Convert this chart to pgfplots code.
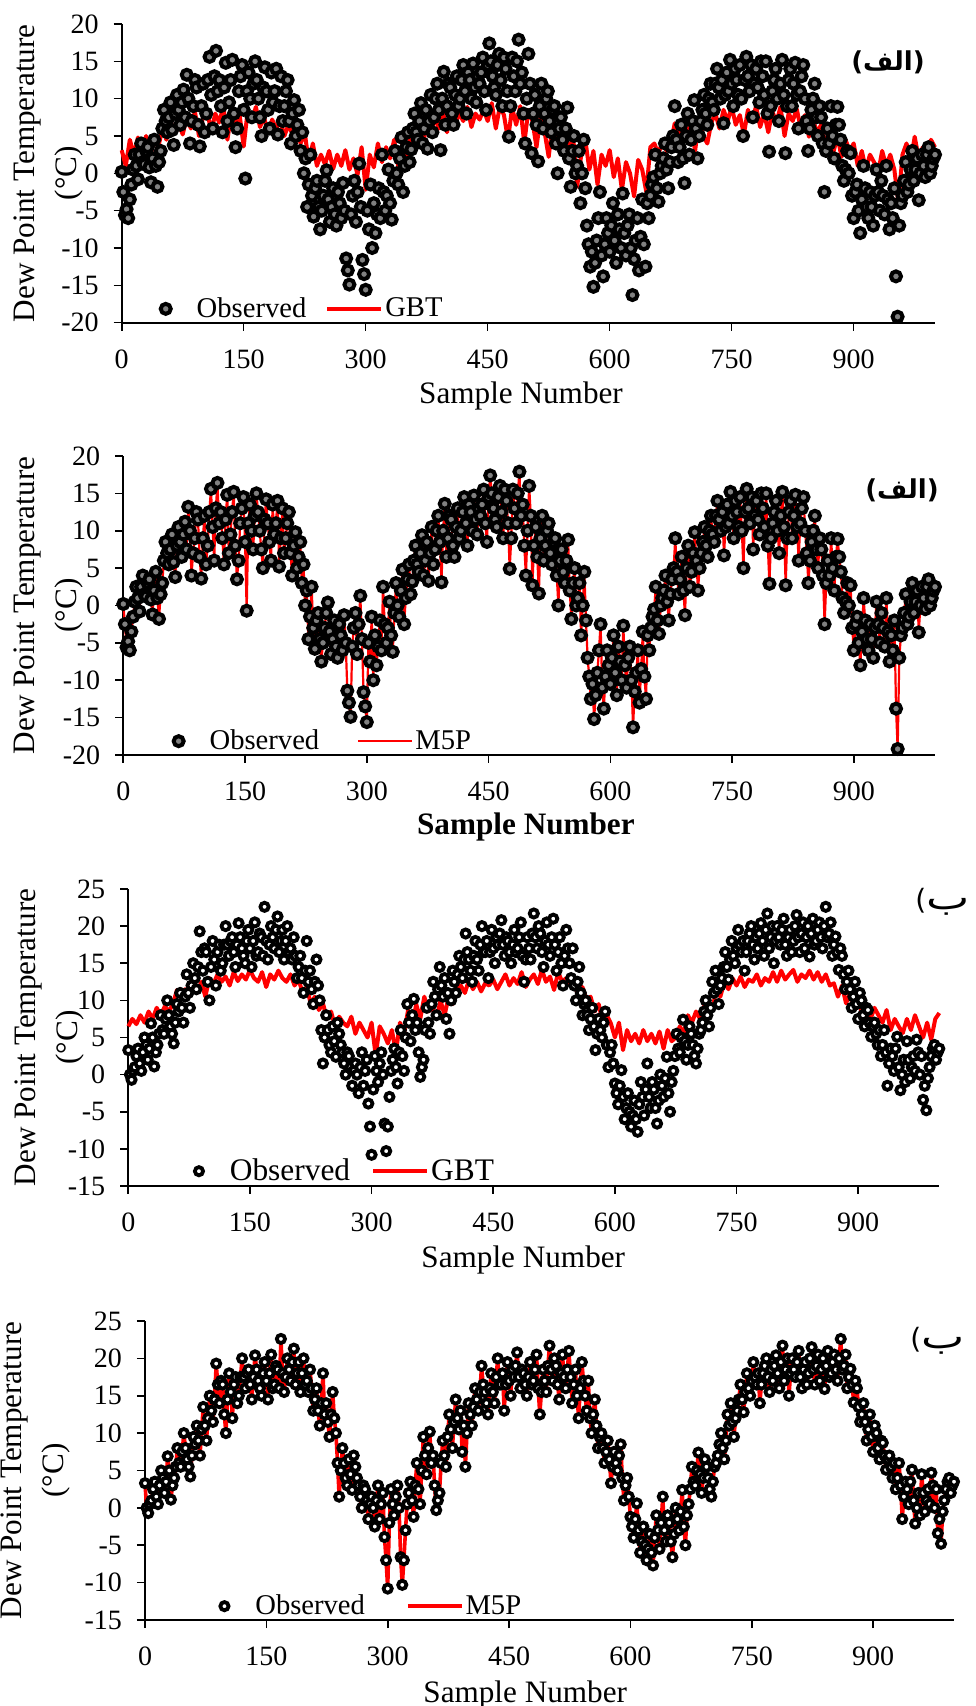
\documentclass[border=0pt]{standalone}
\usepackage{fontspec}
\setmainfont{Liberation Serif}
\newfontfamily\arabicfont[Script=Arabic]{DejaVu Sans}
\newfontfamily\arabicwide[Script=Arabic, FakeStretch=1.35]{DejaVu Sans}
\newfontfamily\dejavu{DejaVu Sans}
\usepackage{pgfplots}
\usepackage{pgfplotstable}
\pgfplotsset{compat=1.18}
\TeXXeTstate=1

% station 1: observed dew point, every 2nd sample
\pgfplotstableread[row sep=\\]{
y\\
0.2\\ -2.5\\ -5.6\\ -4.8\\ -6.0\\ -3.5\\ -1.5\\ 0.5\\ 2.5\\ 1.0\\ -0.8\\ 2.5\\ 4.0\\ 1.5\\ 1.2\\ 3.0\\ 3.5\\ 0.8\\ -1.2\\ 2.0\\
4.5\\ 1.0\\ -1.8\\ 1.5\\ 3.0\\ 6.0\\ 8.5\\ 7.0\\ 5.5\\ 7.5\\ 9.5\\ 5.8\\ 3.8\\ 8.0\\ 10.5\\ 8.5\\ 6.5\\ 9.5\\ 11.2\\ 7.5\\
13.2\\ 10.0\\ 4.0\\ 7.0\\ 9.0\\ 12.5\\ 11.5\\ 6.5\\ 3.6\\ 9.0\\ 12.0\\ 5.5\\ 8.0\\ 12.5\\ 15.6\\ 10.5\\ 6.0\\ 13.0\\ 16.4\\ 11.0\\
12.5\\ 9.0\\ 5.5\\ 11.5\\ 14.8\\ 7.0\\ 9.5\\ 12.5\\ 15.2\\ 8.0\\ 3.5\\ 6.0\\ 11.0\\ 13.0\\ 14.5\\ 8.5\\ -0.7\\ 11.0\\ 13.5\\ 10.0\\
7.5\\ 12.0\\ 15.0\\ 12.5\\ 10.0\\ 7.5\\ 5.0\\ 11.5\\ 14.2\\ 11.0\\ 8.5\\ 6.0\\ 13.5\\ 9.5\\ 11.0\\ 14.0\\ 5.2\\ 9.0\\ 13.0\\ 7.0\\
9.0\\ 11.0\\ 12.5\\ 7.0\\ 4.0\\ 8.0\\ 9.8\\ 5.0\\ 6.5\\ 8.5\\ 3.0\\ 5.5\\ 0.0\\ 2.0\\ -4.5\\ -1.5\\ 2.5\\ -3.0\\ -5.8\\ -2.0\\
-1.0\\ -4.5\\ -7.5\\ -5.0\\ -3.0\\ -1.0\\ 0.4\\ -3.5\\ -6.5\\ -4.5\\ -2.0\\ -5.5\\ -7.0\\ -2.5\\ -4.0\\ -6.0\\ -1.3\\ -5.0\\ -11.4\\ -13.0\\
-14.9\\ -5.5\\ -3.0\\ -1.0\\ -6.5\\ -2.5\\ 1.3\\ -4.5\\ -11.6\\ -13.5\\ -15.6\\ -5.0\\ -7.5\\ -1.5\\ -10.0\\ -4.0\\ -8.0\\ -5.5\\ -2.0\\ -6.0\\
2.5\\ -2.5\\ -5.0\\ -3.0\\ 0.5\\ -4.0\\ -6.2\\ -1.0\\ 3.0\\ 0.0\\ -1.5\\ 2.0\\ 4.8\\ -2.5\\ 1.0\\ 3.5\\ 5.5\\ 1.5\\ 3.2\\ 6.0\\
8.0\\ 5.5\\ 4.5\\ 7.0\\ 9.4\\ 4.0\\ 6.0\\ 8.5\\ 3.3\\ 7.0\\ 10.5\\ 5.5\\ 7.5\\ 10.0\\ 12.0\\ 8.5\\ 3.1\\ 10.0\\ 13.6\\ 6.5\\
9.0\\ 12.0\\ 11.5\\ 8.0\\ 6.5\\ 10.5\\ 13.0\\ 9.0\\ 10.0\\ 12.5\\ 14.5\\ 11.0\\ 8.0\\ 13.5\\ 12.5\\ 10.0\\ 14.7\\ 11.5\\ 9.5\\ 13.0\\
12.0\\ 13.5\\ 15.5\\ 11.0\\ 8.5\\ 14.5\\ 17.4\\ 15.0\\ 13.0\\ 11.5\\ 10.5\\ 14.5\\ 16.0\\ 12.5\\ 9.0\\ 15.5\\ 14.0\\ 11.0\\ 4.9\\ 9.0\\
15.5\\ 13.0\\ 11.0\\ 15.0\\ 17.9\\ 12.0\\ 13.5\\ 8.0\\ 4.0\\ 10.0\\ 16.0\\ 12.0\\ 2.7\\ 8.0\\ 10.5\\ 6.5\\ 1.6\\ 9.0\\ 12.0\\ 6.0\\
8.0\\ 10.0\\ 11.0\\ 7.0\\ 5.5\\ 8.5\\ 9.0\\ 4.0\\ 0.0\\ 6.0\\ 7.5\\ 4.5\\ 3.0\\ 6.0\\ 8.8\\ 2.0\\ -1.8\\ 3.0\\ 5.0\\ 0.0\\
1.0\\ 3.0\\ -4.0\\ 0.0\\ 4.5\\ -2.0\\ -7.0\\ -9.5\\ -12.5\\ -10.5\\ -15.2\\ -12.0\\ -9.0\\ -6.0\\ -2.5\\ -11.0\\ -13.8\\ -9.5\\ -6.0\\ -8.0\\
-10.5\\ -7.0\\ -4.0\\ -9.0\\ -12.0\\ -5.5\\ -7.5\\ -10.0\\ -2.7\\ -8.0\\ -11.0\\ -7.0\\ -5.5\\ -10.0\\ -16.3\\ -11.5\\ -9.0\\ -6.0\\ -13.0\\ -8.5\\
-3.5\\ -9.5\\ -12.5\\ -4.0\\ -6.0\\ -3.0\\ -1.5\\ -0.5\\ 2.5\\ -2.0\\ -3.8\\ 0.0\\ 1.0\\ 2.0\\ 4.0\\ 0.5\\ -2.0\\ 1.5\\ 3.5\\ 5.0\\
9.0\\ 4.5\\ 1.5\\ 3.5\\ 6.5\\ 2.0\\ -1.3\\ 5.0\\ 8.0\\ 2.5\\ 4.5\\ 7.0\\ 9.8\\ 6.0\\ 2.0\\ 5.0\\ 7.0\\ 8.5\\ 10.5\\ 8.0\\
6.5\\ 10.0\\ 12.0\\ 9.5\\ 8.5\\ 12.0\\ 14.0\\ 11.5\\ 10.0\\ 12.5\\ 6.7\\ 10.5\\ 13.5\\ 11.0\\ 15.2\\ 12.0\\ 9.0\\ 14.0\\ 12.5\\ 10.5\\
14.5\\ 10.0\\ 5.0\\ 12.5\\ 15.6\\ 13.0\\ 11.0\\ 14.5\\ 7.5\\ 12.0\\ 14.0\\ 11.5\\ 9.5\\ 15.0\\ 13.0\\ 10.5\\ 15.0\\ 8.0\\ 2.9\\ 9.0\\
11.0\\ 12.5\\ 14.0\\ 10.0\\ 7.0\\ 12.0\\ 15.2\\ 10.5\\ 2.7\\ 9.0\\ 12.5\\ 14.0\\ 9.0\\ 12.0\\ 14.8\\ 10.5\\ 6.0\\ 11.0\\ 13.0\\ 14.5\\
10.0\\ 7.0\\ 3.0\\ 6.0\\ 8.5\\ 10.0\\ 12.0\\ 7.5\\ 5.0\\ 9.0\\ 7.5\\ 4.0\\ -2.5\\ 3.0\\ 6.0\\ 4.0\\ 9.0\\ 5.0\\ 2.0\\ 6.5\\
8.9\\ 6.5\\ 4.5\\ 1.0\\ -1.0\\ 0.5\\ 3.0\\ 0.0\\ 2.7\\ -3.0\\ -6.0\\ -2.5\\ -1.5\\ -5.0\\ -8.0\\ -3.5\\ 1.0\\ -2.0\\ -4.5\\ -6.0\\
-2.5\\ -4.5\\ -7.0\\ -3.0\\ 0.5\\ -2.5\\ -5.0\\ -1.0\\ -3.0\\ -5.5\\ 1.0\\ -3.5\\ -7.5\\ -4.0\\ -6.0\\ -2.0\\ -13.8\\ -19.2\\ -7.0\\ -4.0\\
-3.0\\ -1.0\\ 1.5\\ -2.5\\ -1.5\\ 0.5\\ 3.0\\ -1.0\\ 0.5\\ 2.0\\ -3.6\\ 0.0\\ 2.5\\ 1.0\\ -0.5\\ 2.5\\ 3.5\\ 0.0\\ 1.0\\ 2.0\\
2.5\\
}\obsA

% station 1: GBT, every 5th sample
\pgfplotstableread[row sep=\\]{
y\\
3.1\\ 1.0\\ 4.5\\ 2.5\\ 4.8\\ 3.0\\ 5.0\\ 2.2\\ 4.6\\ 3.5\\
6.0\\ 4.5\\ 7.0\\ 5.4\\ 6.8\\ 5.2\\ 7.5\\ 6.0\\ 8.3\\ 5.0\\
7.5\\ 8.5\\ 5.5\\ 8.0\\ 6.8\\ 9.0\\ 4.5\\ 8.2\\ 6.5\\ 7.8\\
3.6\\ 8.5\\ 7.0\\ 8.9\\ 6.2\\ 7.5\\ 5.5\\ 7.2\\ 6.0\\ 7.0\\
5.0\\ 6.5\\ 5.2\\ 6.0\\ 4.0\\ 5.5\\ 1.5\\ 4.0\\ 1.0\\ 2.5\\
1.2\\ 3.0\\ 0.6\\ 2.5\\ 1.0\\ 3.1\\ 0.5\\ 2.0\\ -0.2\\ 3.5\\
-2.2\\ 2.5\\ 0.8\\ 4.0\\ 1.5\\ 3.5\\ 2.0\\ 4.5\\ 1.0\\ 3.8\\
2.0\\ 4.9\\ 3.5\\ 6.0\\ 3.2\\ 7.0\\ 5.0\\ 7.6\\ 6.0\\ 8.2\\
5.5\\ 8.5\\ 6.5\\ 8.0\\ 7.0\\ 8.9\\ 6.2\\ 8.0\\ 7.2\\ 8.5\\
7.0\\ 9.4\\ 6.0\\ 9.0\\ 7.8\\ 4.5\\ 8.8\\ 6.5\\ 9.0\\ 4.0\\
8.5\\ 7.0\\ 3.5\\ 7.6\\ 5.5\\ 2.2\\ 6.8\\ 5.0\\ 7.0\\ 5.5\\
3.0\\ 5.0\\ -1.8\\ 2.5\\ 4.5\\ 0.5\\ 3.0\\ -1.5\\ 2.5\\ 1.0\\
3.1\\ -0.5\\ 2.0\\ -2.2\\ 1.5\\ 0.0\\ -3.1\\ 1.8\\ 0.5\\ -2.5\\
3.5\\ 4.0\\ 2.5\\ 4.5\\ 3.0\\ 4.0\\ 6.7\\ 4.5\\ 7.0\\ 5.5\\
6.5\\ 3.0\\ 7.1\\ 5.0\\ 4.0\\ 6.8\\ 8.0\\ 6.0\\ 8.5\\ 7.0\\
8.9\\ 6.5\\ 7.8\\ 5.2\\ 8.5\\ 7.0\\ 9.0\\ 6.2\\ 8.0\\ 5.5\\
8.3\\ 6.8\\ 8.9\\ 5.0\\ 8.0\\ 7.0\\ 8.6\\ 6.0\\ 7.8\\ 4.9\\
7.1\\ 5.5\\ 6.5\\ 3.5\\ 6.0\\ 2.8\\ 5.0\\ 2.2\\ 4.5\\ 3.0\\
4.0\\ 1.0\\ 3.0\\ 0.5\\ 2.5\\ 1.5\\ 0.0\\ 3.0\\ 1.0\\ 2.5\\
0.5\\ -4.0\\ 2.5\\ 4.0\\ 1.5\\ 4.9\\ 2.0\\ 3.5\\ 1.3\\ 4.5\\
3.5\\
}\gbtA

% station 2: observed dew point, every 2nd sample
\pgfplotstableread[row sep=\\]{
y\\
3.3\\ 0.0\\ -0.7\\ 0.5\\ 1.0\\ 2.5\\ 3.5\\ 1.5\\ 0.5\\ 3.0\\ 5.0\\ 4.0\\ 2.0\\ 3.5\\ 6.9\\ 5.0\\ 1.1\\ 3.0\\ 4.0\\ 5.5\\
8.0\\ 6.0\\ 5.5\\ 7.5\\ 10.0\\ 8.0\\ 6.5\\ 5.5\\ 4.2\\ 7.0\\ 9.5\\ 8.5\\ 11.0\\ 9.0\\ 7.0\\ 10.5\\ 13.5\\ 11.0\\ 9.0\\ 12.0\\
15.0\\ 13.0\\ 11.5\\ 14.5\\ 19.3\\ 16.5\\ 14.0\\ 17.0\\ 16.5\\ 12.5\\ 10.0\\ 14.5\\ 18.0\\ 15.5\\ 12.0\\ 16.5\\ 17.5\\ 14.0\\ 15.0\\ 17.5\\
20.0\\ 17.5\\ 16.0\\ 18.0\\ 18.5\\ 16.5\\ 14.5\\ 17.5\\ 20.4\\ 18.5\\ 17.0\\ 16.0\\ 15.0\\ 18.0\\ 19.5\\ 17.0\\ 14.5\\ 18.0\\ 20.5\\ 16.0\\
16.5\\ 19.0\\ 18.5\\ 16.0\\ 22.6\\ 18.0\\ 15.5\\ 17.5\\ 20.0\\ 18.5\\ 17.0\\ 19.5\\ 21.3\\ 16.5\\ 18.0\\ 19.5\\ 15.5\\ 18.0\\ 20.0\\ 16.5\\
17.0\\ 15.5\\ 18.5\\ 16.0\\ 13.0\\ 14.5\\ 16.0\\ 13.0\\ 11.0\\ 14.0\\ 18.0\\ 12.5\\ 14.0\\ 11.5\\ 9.5\\ 12.5\\ 15.5\\ 12.0\\ 10.0\\ 6.0\\
1.5\\ 5.0\\ 8.0\\ 6.0\\ 4.0\\ 3.0\\ 6.5\\ 4.5\\ 2.4\\ 7.0\\ 5.5\\ 4.0\\ 3.0\\ 1.5\\ 0.0\\ 3.0\\ 2.5\\ 1.0\\ -1.5\\ 0.5\\
1.5\\ 0.0\\ -2.5\\ 1.0\\ 3.0\\ -1.5\\ 0.5\\ 2.0\\ -3.9\\ -7.0\\ -10.8\\ -2.0\\ 2.5\\ 0.5\\ -1.0\\ 1.5\\ 3.0\\ 0.0\\ -6.6\\ -10.3\\
-7.0\\ -3.0\\ 0.5\\ 2.0\\ 3.5\\ 1.0\\ -1.2\\ 3.0\\ 6.0\\ 2.5\\ 0.5\\ 5.0\\ 9.5\\ 7.0\\ 4.5\\ 8.0\\ 10.2\\ 6.0\\ 7.0\\ 3.0\\
-0.3\\ 1.0\\ 2.0\\ 6.0\\ 9.0\\ 7.0\\ 5.5\\ 9.5\\ 12.5\\ 10.5\\ 8.0\\ 11.5\\ 14.5\\ 12.0\\ 10.5\\ 13.0\\ 7.5\\ 11.0\\ 5.5\\ 10.0\\
14.0\\ 12.5\\ 11.0\\ 13.5\\ 16.0\\ 14.5\\ 13.0\\ 15.5\\ 19.0\\ 16.5\\ 15.5\\ 14.0\\ 12.5\\ 16.0\\ 18.0\\ 15.5\\ 14.0\\ 17.5\\ 20.0\\ 16.5\\
16.5\\ 18.0\\ 13.0\\ 16.5\\ 19.5\\ 17.0\\ 15.0\\ 18.5\\ 17.5\\ 19.0\\ 20.8\\ 17.5\\ 16.0\\ 18.5\\ 18.0\\ 16.5\\ 15.0\\ 17.5\\ 19.5\\ 16.5\\
17.0\\ 18.5\\ 20.5\\ 16.0\\ 12.5\\ 15.5\\ 18.5\\ 17.0\\ 15.5\\ 19.0\\ 21.7\\ 18.5\\ 17.0\\ 20.0\\ 19.0\\ 16.5\\ 14.5\\ 18.0\\ 20.5\\ 17.5\\
16.0\\ 18.5\\ 21.0\\ 17.5\\ 14.0\\ 16.5\\ 18.5\\ 15.0\\ 12.0\\ 16.0\\ 19.5\\ 17.0\\ 15.0\\ 13.0\\ 17.0\\ 12.0\\ 10.0\\ 12.5\\ 14.5\\ 11.0\\
8.0\\ 9.5\\ 10.0\\ 8.0\\ 6.0\\ 7.5\\ 9.0\\ 6.5\\ 3.3\\ 5.5\\ 7.5\\ 6.0\\ 5.0\\ 7.0\\ 8.5\\ 4.0\\ 1.0\\ 3.0\\ 4.0\\ 1.5\\
-1.2\\ -2.5\\ -4.0\\ -1.5\\ 0.6\\ -3.0\\ -6.0\\ -4.5\\ -2.5\\ -5.0\\ -7.0\\ -5.5\\ -3.5\\ -6.0\\ -7.7\\ -4.0\\ -1.0\\ -3.0\\ -5.5\\ -2.0\\
1.5\\ -3.0\\ -4.5\\ -1.0\\ -2.0\\ -4.5\\ -6.6\\ -3.5\\ 0.0\\ -1.5\\ -3.0\\ -0.5\\ 2.4\\ -2.5\\ -5.0\\ -1.0\\ 0.5\\ 2.5\\ 5.5\\ 3.5\\
3.0\\ 5.0\\ 7.4\\ 4.5\\ 2.0\\ 4.0\\ 6.5\\ 5.5\\ 4.0\\ 2.5\\ 1.5\\ 3.5\\ 5.5\\ 6.0\\ 7.0\\ 8.5\\ 10.0\\ 8.0\\ 6.5\\ 9.0\\
12.5\\ 11.0\\ 14.0\\ 11.5\\ 9.5\\ 12.0\\ 13.0\\ 14.5\\ 16.5\\ 14.5\\ 12.8\\ 15.5\\ 18.0\\ 16.0\\ 15.0\\ 17.0\\ 19.5\\ 17.5\\ 16.5\\ 18.0\\
14.0\\ 16.5\\ 18.0\\ 19.0\\ 20.0\\ 17.5\\ 15.5\\ 18.5\\ 17.0\\ 19.0\\ 20.4\\ 18.0\\ 16.0\\ 19.5\\ 21.7\\ 17.0\\ 18.5\\ 20.0\\ 15.0\\ 18.0\\
20.0\\ 18.5\\ 17.5\\ 19.5\\ 21.0\\ 17.5\\ 16.0\\ 18.5\\ 19.5\\ 16.5\\ 18.0\\ 20.0\\ 21.5\\ 18.5\\ 16.5\\ 19.0\\ 20.5\\ 17.0\\ 18.5\\ 20.0\\
15.9\\ 19.0\\ 21.0\\ 17.5\\ 18.0\\ 19.5\\ 20.5\\ 18.5\\ 17.0\\ 20.0\\ 22.6\\ 18.5\\ 19.0\\ 20.5\\ 16.0\\ 17.5\\ 18.6\\ 16.5\\ 14.1\\ 17.0\\
16.0\\ 13.5\\ 11.5\\ 12.5\\ 14.0\\ 11.5\\ 9.0\\ 10.5\\ 12.5\\ 9.5\\ 7.5\\ 11.0\\ 10.0\\ 8.0\\ 6.5\\ 9.0\\ 8.7\\ 7.0\\ 5.1\\ 6.5\\
7.0\\ 5.5\\ 4.0\\ 6.0\\ 2.5\\ 4.0\\ 6.0\\ 3.0\\ -1.5\\ 1.5\\ 3.5\\ 2.5\\ 0.5\\ 3.5\\ 5.1\\ 1.0\\ -2.1\\ 0.0\\ 2.0\\ -1.0\\
4.5\\ 2.0\\ -0.5\\ 1.0\\ 2.5\\ 0.5\\ 4.7\\ 3.0\\ 0.0\\ 2.5\\ -3.4\\ -1.5\\ -4.8\\ -0.5\\ 1.0\\ 2.5\\ 3.5\\ 4.0\\ 2.0\\ 3.0\\
3.5\\
}\obsB

% station 2: GBT, every 5th sample
\pgfplotstableread[row sep=\\]{
y\\
6.5\\ 7.5\\ 6.8\\ 8.0\\ 7.0\\ 8.5\\ 7.5\\ 9.0\\ 8.0\\ 9.2\\
8.5\\ 9.5\\ 11.4\\ 10.5\\ 11.5\\ 10.8\\ 12.3\\ 11.0\\ 12.5\\ 10.5\\
13.0\\ 12.2\\ 13.5\\ 12.5\\ 13.2\\ 12.0\\ 13.8\\ 12.6\\ 13.5\\ 12.8\\
14.1\\ 13.0\\ 12.5\\ 13.8\\ 11.8\\ 13.5\\ 12.8\\ 14.0\\ 13.0\\ 12.5\\
13.5\\ 12.0\\ 12.8\\ 11.0\\ 11.8\\ 9.5\\ 10.5\\ 8.7\\ 9.6\\ 7.5\\
8.5\\ 6.5\\ 7.8\\ 7.0\\ 6.5\\ 7.8\\ 5.5\\ 7.0\\ 6.0\\ 5.0\\
7.0\\ 2.6\\ 6.5\\ 5.5\\ 4.2\\ 6.0\\ 3.0\\ 7.0\\ 5.5\\ 8.7\\
6.5\\ 9.5\\ 7.5\\ 10.5\\ 8.5\\ 9.0\\ 7.5\\ 10.0\\ 8.0\\ 10.5\\
9.5\\ 11.5\\ 12.0\\ 11.0\\ 12.7\\ 11.5\\ 12.5\\ 11.2\\ 12.3\\ 12.0\\
12.8\\ 11.5\\ 12.5\\ 13.5\\ 12.0\\ 13.0\\ 12.2\\ 13.8\\ 11.8\\ 12.8\\
13.5\\ 12.2\\ 14.1\\ 12.5\\ 13.2\\ 11.4\\ 13.8\\ 12.5\\ 13.0\\ 12.0\\
12.3\\ 10.5\\ 11.8\\ 10.0\\ 10.5\\ 8.5\\ 9.5\\ 7.0\\ 8.0\\ 6.9\\
5.0\\ 7.0\\ 3.3\\ 6.0\\ 4.5\\ 5.5\\ 4.2\\ 6.0\\ 4.5\\ 5.5\\
4.2\\ 5.8\\ 3.5\\ 6.0\\ 4.5\\ 5.0\\ 6.5\\ 5.5\\ 8.0\\ 7.0\\
8.5\\ 7.5\\ 9.2\\ 10.0\\ 8.7\\ 11.4\\ 10.5\\ 12.5\\ 11.5\\ 13.0\\
12.0\\ 13.2\\ 11.8\\ 12.8\\ 12.5\\ 13.5\\ 12.0\\ 13.0\\ 12.5\\ 13.8\\
12.5\\ 14.0\\ 12.8\\ 13.5\\ 14.1\\ 12.5\\ 13.5\\ 13.0\\ 14.0\\ 12.8\\
13.8\\ 12.5\\ 13.5\\ 12.0\\ 12.3\\ 10.5\\ 12.0\\ 9.6\\ 11.0\\ 9.0\\
10.5\\ 8.0\\ 9.5\\ 7.4\\ 9.0\\ 8.0\\ 7.0\\ 8.7\\ 6.0\\ 7.5\\
6.5\\ 5.6\\ 7.5\\ 6.0\\ 8.0\\ 6.5\\ 5.0\\ 7.0\\ 4.7\\ 7.5\\
8.3\\
}\gbtB

\pgfplotsset{
  dew/.style={
    scale only axis, clip=false,
    axis x line*=bottom, axis y line*=left,
    xmin=0, xmax=1000, xtick={0,150,...,900},
    ytick distance=5,
    tick align=outside, major tick length=4pt,
    every tick/.style={black, line width=0.8pt},
    axis line style={black, line width=0.9pt},
    tick label style={font=\fontsize{14}{16}\selectfont},
    xticklabel style={yshift=-6pt},
    yticklabel style={xshift=-4pt},
    /pgf/number format/assume math mode=true,
    label style={font=\fontsize{15.6}{21}\selectfont},
    ylabel={Dew Point Temperature\\(°C)},
    ylabel style={align=center},
    xlabel={Sample Number},
    legend columns=2,
    legend cell align=left,
    legend style={draw=none, fill=none, inner sep=0pt, anchor=south west,
      nodes={inner sep=1pt}, font=\fontsize{14.3}{17}\selectfont},
  },
  obsfilled/.style={only marks, mark=*, mark size=2.5pt, line width=2pt,
    mark options={draw=black, fill=gray, line width=2pt},
    legend image code/.code={\path (0pt,0pt) (27pt,0pt);
      \draw[mark repeat=2,mark phase=2,##1] plot coordinates {(0pt,0pt) (13.5pt,0pt) (27pt,0pt)};}},
  obsopen/.style={only marks, mark=*, mark size=2.05pt, line width=1.9pt,
    mark options={draw=black, fill=white, line width=1.9pt},
    legend image code/.code={\path (0pt,0pt) (27pt,0pt);
      \draw[mark repeat=2,mark phase=2,##1] plot coordinates {(0pt,0pt) (13.5pt,0pt) (27pt,0pt)};}},
  model/.style={red, line join=round, no marks,
    legend image code/.code={\draw[##1] (0pt,0pt) -- (27pt,0pt);}},
}

\begin{document}
\begin{tikzpicture}
\useasboundingbox (0pt,0pt) rectangle (487.5pt,853pt);

% (a) GBT
\begin{axis}[dew, at={(60.85pt,691.65pt)}, anchor=south west,
  width=406.65pt, height=149.35pt, ymin=-20, ymax=20,
  ylabel style={at={(axis description cs:-0.09,0.5)}, anchor=center},
  xlabel style={at={(axis description cs:0.491,-0.245)}, anchor=center},
  legend style={at={(0.018,0)}, /tikz/every even column/.append style={column sep=8.5pt}}]
\addplot[obsfilled] table[x expr=\coordindex*2, y=y] {\obsA};
\addlegendentry{Observed}
\addplot[model, line width=2pt] table[x expr=\coordindex*5, y=y] {\gbtA};
\addlegendentry{GBT}
\end{axis}

% (a) M5P
\begin{axis}[dew, at={(61.65pt,475.5pt)}, anchor=south west,
  width=405.85pt, height=149.5pt, ymin=-20, ymax=20,
  ylabel style={at={(axis description cs:-0.092,0.5)}, anchor=center},
  xlabel style={at={(axis description cs:0.496,-0.242)}, anchor=center,
    font=\fontsize{15.6}{21}\selectfont\bfseries},
  legend style={at={(0.032,0)}, /tikz/every even column/.append style={column sep=18pt}}]
\addplot[obsfilled] table[x expr=\coordindex*2, y=y] {\obsA};
\addlegendentry{Observed}
\addplot[model, line width=1.1pt] table[x expr=\coordindex*2, y=y] {\obsA};
\addlegendentry{M5P}
\end{axis}

% (b) GBT
\begin{axis}[dew, at={(64.15pt,260pt)}, anchor=south west,
  width=405.5pt, height=148.5pt, ymin=-15, ymax=25,
  ylabel style={at={(axis description cs:-0.097,0.5)}, anchor=center},
  xlabel style={at={(axis description cs:0.487,-0.249)}, anchor=center},
  legend style={at={(0.051,0)}, font=\fontsize{15.7}{18}\selectfont,
    /tikz/every even column/.append style={column sep=9.5pt}}]
\addplot[obsopen] table[x expr=\coordindex*2, y=y] {\obsB};
\addlegendentry{Observed}
\addplot[model, line width=2pt] table[x expr=\coordindex*5, y=y] {\gbtB};
\addlegendentry{GBT}
\end{axis}

% (b) M5P
\begin{axis}[dew, at={(72.5pt,43pt)}, anchor=south west,
  width=404.5pt, height=149.5pt, ymin=-15, ymax=25,
  ylabel style={at={(axis description cs:-0.135,0.5)}, anchor=center},
  xlabel style={at={(axis description cs:0.47,-0.251)}, anchor=center},
  legend style={at={(0.062,0)}, /tikz/every even column/.append style={column sep=19.5pt}}]
\addplot[obsopen] table[x expr=\coordindex*2, y=y] {\obsB};
\addlegendentry{Observed}
\addplot[model, line width=1.8pt] table[x expr=\coordindex*2, y=y] {\obsB};
\addlegendentry{M5P}
\end{axis}

\node[font=\bfseries\fontsize{13}{15}\selectfont] at (444pt,822pt)
  {{\dejavu(}{\arabicfont\beginR الف\endR}{\dejavu)}};
\node[font=\bfseries\fontsize{13}{15}\selectfont] at (451pt,608pt)
  {{\dejavu(}{\arabicfont\beginR الف\endR}{\dejavu)}};
\node[anchor=west, inner sep=0pt] at (457.5pt,402pt)
  {{\dejavu\fontsize{14}{16}\selectfont(}{\arabicwide\fontsize{17}{20}\selectfont\beginR ب\endR}};
\node[anchor=west, inner sep=0pt] at (455pt,182.5pt)
  {{\dejavu\fontsize{14}{16}\selectfont(}{\arabicwide\fontsize{17}{20}\selectfont\beginR ب\endR}};
\end{tikzpicture}
\end{document}
